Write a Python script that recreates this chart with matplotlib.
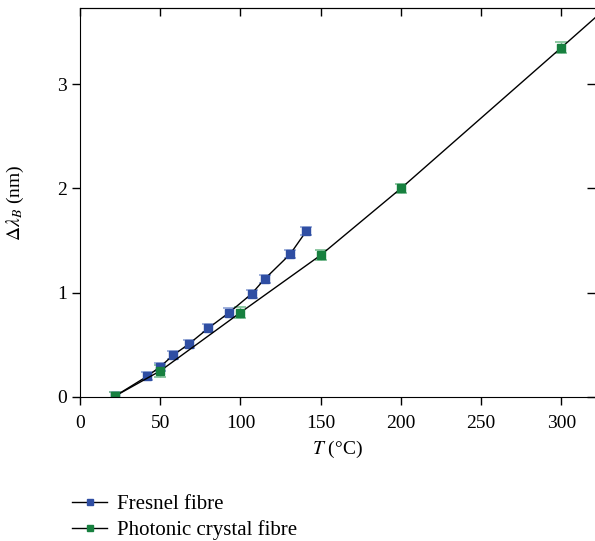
import matplotlib
matplotlib.use("Agg")
import matplotlib.pyplot as plt

plt.rcParams['font.family'] = ['Liberation Serif', 'DejaVu Serif']
plt.rcParams['mathtext.fontset'] = 'stix'

# Fresnel fibre
fres_t = [22, 42, 50, 58, 68, 80, 93, 107, 115, 131, 141]
fres_dl = [0.01, 0.20, 0.29, 0.40, 0.51, 0.66, 0.81, 0.99, 1.13, 1.37, 1.59]
fres_err = [0.04] * len(fres_t)

# Photonic crystal fibre (last point lies outside the visible frame)
pcf_t = [22, 50, 100, 150, 200, 300, 350]
pcf_dl = [0.01, 0.25, 0.81, 1.36, 2.00, 3.35, 4.03]
pcf_err = [0.04, 0.06, 0.05, 0.05, 0.04, 0.05, 0.05]

blue = '#2f4ea3'
green = '#17803f'

fig = plt.figure(figsize=(5.95, 5.41), dpi=100)
ax = fig.add_axes([0.1345, 0.2662, 0.8655, 0.7190])

# error bars first, then lines + markers on top
ax.errorbar(fres_t, fres_dl, yerr=fres_err, fmt='none', ecolor='#8fa3d6',
            elinewidth=1.0, capsize=4.5, capthick=1.2)
ax.errorbar(pcf_t, pcf_dl, yerr=pcf_err, fmt='none', ecolor='#7cbf94',
            elinewidth=1.0, capsize=4.5, capthick=1.2)
h1, = ax.plot(fres_t, fres_dl, color='black', lw=1.0, marker='s', ms=6,
              mfc=blue, mec=blue, label='Fresnel fibre')
h2, = ax.plot(pcf_t, pcf_dl, color='black', lw=1.0, marker='s', ms=6,
              mfc=green, mec=green, label='Photonic crystal fibre')

ax.set_xlim(0, 321)
ax.set_ylim(0, 3.73)
ax.set_xticks([0, 50, 100, 150, 200, 250, 300])
ax.set_yticks([0, 1, 2, 3])

ax.spines['right'].set_visible(False)
ax.tick_params(axis='both', labelsize=14, length=6, width=1, direction='out')
ax.tick_params(axis='x', pad=7)

# inward ticks on top and right
top = ax.secondary_xaxis('top')
top.set_xticks([0, 50, 100, 150, 200, 250, 300])
top.tick_params(direction='in', length=6, width=1, labeltop=False)
right = ax.secondary_yaxis('right')
right.set_yticks([0, 1, 2, 3])
right.tick_params(direction='in', length=6, width=1, labelright=False)
right.spines['right'].set_visible(False)

ax.set_xlabel(r'$T$ (°C)', fontsize=14, labelpad=5)
ax.set_ylabel(r'$\Delta\lambda_B$ (nm)', fontsize=14, labelpad=22)

fig.legend(handles=[h1, h2], loc='center left',
           bbox_to_anchor=(0.121, 0.0434), frameon=False, fontsize=15,
           handlelength=1.7, handletextpad=0.45, labelspacing=0.3,
           borderpad=0, borderaxespad=0, markerscale=0.75)

fig.savefig('out.png', dpi=100)
